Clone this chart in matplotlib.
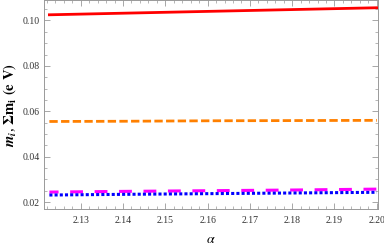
import matplotlib.pyplot as plt
import numpy as np
from matplotlib.ticker import MultipleLocator

# values
alpha = [2.1226, 2.14, 2.16, 2.18, 2.2]
sum_m = [0.1025, 0.1032, 0.1040, 0.1048, 0.1056]
m3 = [0.0555, 0.0556, 0.0558, 0.0559, 0.0560]
m2 = [0.0244, 0.0247, 0.0250, 0.0253, 0.0257]
m1 = [0.0231, 0.0234, 0.0237, 0.0240, 0.0243]

plt.rcParams['font.family'] = ['Liberation Serif', 'DejaVu Serif']
plt.rcParams['mathtext.fontset'] = 'stix'

fig = plt.figure(figsize=(3.84, 2.46), dpi=100)
ax = fig.add_axes([0.1154, 0.150, 0.868, 0.848])

ax.plot(alpha, sum_m, color='#ff0000', lw=2)
ax.plot(alpha, m3, color='#ff8000', lw=2, linestyle=(0, (3, 1.2)))
ax.plot(alpha, m2, color='#ff00ff', lw=2.2, linestyle=(1.2, (4.2, 3.8)))
ax.plot(alpha, m1, color='#0000ff', lw=2.2, linestyle=(0, (1, 0.7)))

ax.set_xlim(2.1214, 2.2002)
ax.set_ylim(0.0169, 0.1088)
ax.xaxis.set_major_locator(MultipleLocator(0.01))
ax.xaxis.set_minor_locator(MultipleLocator(0.002))
ax.yaxis.set_major_locator(MultipleLocator(0.02))
ax.yaxis.set_minor_locator(MultipleLocator(0.005))
ax.xaxis.set_major_formatter(plt.FuncFormatter(lambda v, p: f'{v:.2f}'))
ax.yaxis.set_major_formatter(plt.FuncFormatter(lambda v, p: f'{v:.2f}'))

ax.tick_params(which='both', direction='in', top=True, right=True,
               color='#999999', labelsize=7, labelcolor='#333333')
ax.tick_params(which='major', length=4, width=0.6)
ax.tick_params(axis='x', which='major', pad=5)
ax.tick_params(which='minor', length=2, width=0.5)
for s in ax.spines.values():
    s.set_color('#999999')
    s.set_linewidth(0.7)

ax.set_xlabel(r'$\alpha$', fontsize=10, labelpad=6)
ax.set_ylabel(r'$\mathbfit{m_i}$, $\mathbf{\Sigma m_i}$ $\mathbf{(e\ V)}$', fontsize=10.5, labelpad=3)

fig.savefig('out.png', dpi=100)
